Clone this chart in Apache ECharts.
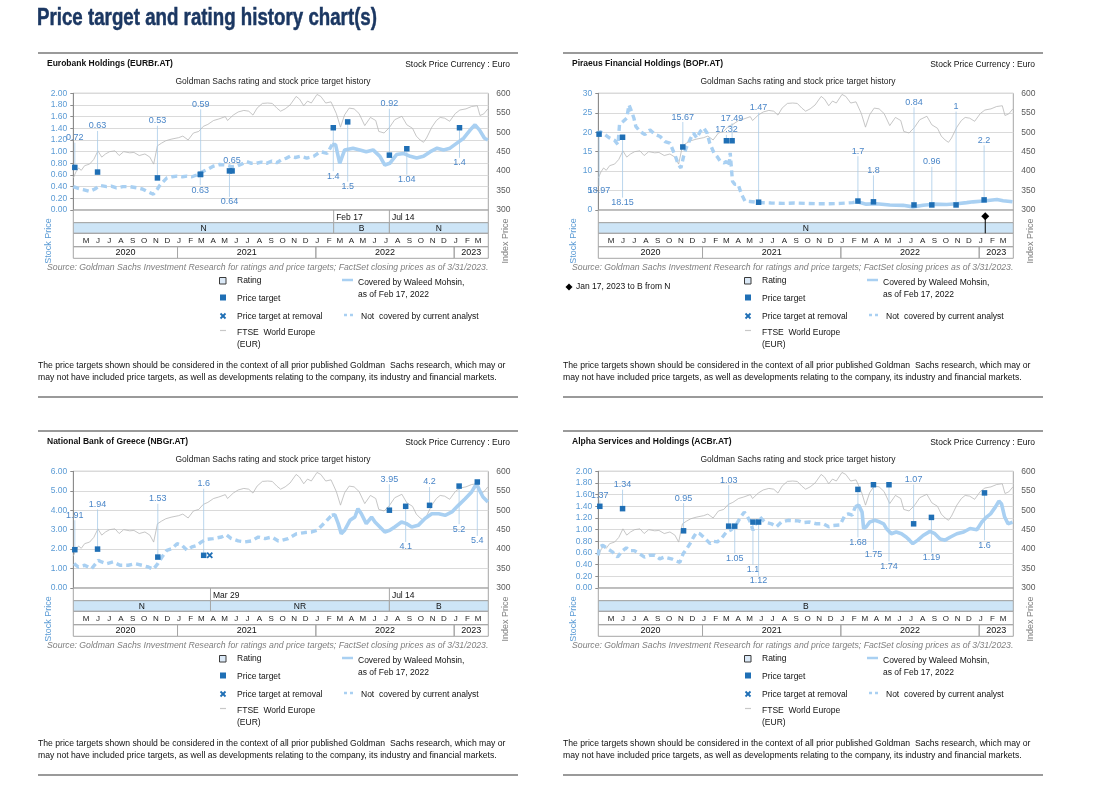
<!DOCTYPE html>
<html><head><meta charset="utf-8">
<script src="https://cdn.jsdelivr.net/npm/echarts/dist/echarts.min.js"></script>
<style>html,body{margin:0;padding:0;background:#fff}#c{width:1118px;height:795px}</style>
</head><body><div id="c"></div><script>
// ---------------- DATA ----------------
const ftseIndex = [
['2020-04-01',382],['2020-04-08',398],['2020-04-15',408],['2020-04-22',402],['2020-05-01',414],['2020-05-14',418],['2020-05-25',430],['2020-06-05',452],['2020-06-15',436],['2020-06-25',444],['2020-07-06',450],['2020-07-20',452],['2020-07-31',440],['2020-08-12',450],['2020-08-28',447],['2020-09-08',448],['2020-09-22',440],['2020-10-07',444],['2020-10-20',436],['2020-10-30',418],['2020-11-09',465],['2020-11-20',472],['2020-12-01',478],['2020-12-15',482],['2021-01-04',486],['2021-01-15',490],['2021-01-29',480],['2021-02-12',498],['2021-02-26',502],['2021-03-10',515],['2021-03-22',520],['2021-04-06',530],['2021-04-20',534],['2021-05-07',540],['2021-05-13',530],['2021-05-28',544],['2021-06-10',552],['2021-06-25',556],['2021-07-08',554],['2021-07-19',544],['2021-07-30',562],['2021-08-13',574],['2021-08-27',575],['2021-09-08',574],['2021-09-20',562],['2021-09-30',554],['2021-10-12',560],['2021-10-25',570],['2021-11-10',592],['2021-11-19',585],['2021-11-30',568],['2021-12-10',580],['2021-12-20',575],['2022-01-04',597],['2022-01-14',592],['2022-01-27',575],['2022-02-10',578],['2022-02-24',548],['2022-03-07',513],['2022-03-18',545],['2022-03-30',562],['2022-04-12',560],['2022-04-25',548],['2022-05-10',517],['2022-05-25',538],['2022-06-08',530],['2022-06-16',502],['2022-06-30',498],['2022-07-14',512],['2022-07-28',532],['2022-08-16',541],['2022-08-29',519],['2022-09-13',510],['2022-09-23',490],['2022-10-03',480],['2022-10-12',474],['2022-10-20',485],['2022-11-03',513],['2022-11-15',530],['2022-11-25',538],['2022-12-07',536],['2022-12-20',528],['2023-01-04',548],['2023-01-16',557],['2023-02-01',560],['2023-02-16',566],['2023-03-03',568],['2023-03-10',543],['2023-03-20',547],['2023-03-31',560]
];

const eurStock = [
['2020-04-01',0.40],['2020-04-14',0.37],['2020-04-27',0.35],['2020-05-14',0.32],['2020-05-28',0.36],['2020-06-10',0.42],['2020-06-28',0.40],['2020-07-10',0.41],['2020-07-24',0.38],['2020-08-10',0.40],['2020-08-29',0.40],['2020-09-16',0.38],['2020-09-30',0.36],['2020-10-12',0.32],['2020-10-29',0.27],['2020-11-09',0.36],['2020-11-16',0.43],['2020-12-04',0.55],['2020-12-18',0.57],['2020-12-31',0.58],['2021-01-14',0.57],['2021-01-26',0.58],['2021-02-08',0.57],['2021-02-21',0.60],['2021-03-09',0.66],['2021-03-22',0.70],['2021-04-05',0.75],['2021-04-22',0.78],['2021-05-10',0.77],['2021-05-24',0.74],['2021-06-06',0.75],['2021-06-20',0.79],['2021-07-02',0.83],['2021-07-15',0.80],['2021-07-28',0.80],['2021-08-10',0.82],['2021-08-24',0.80],['2021-09-07',0.84],['2021-09-20',0.81],['2021-10-02',0.86],['2021-10-16',0.89],['2021-10-25',0.92],['2021-11-08',0.90],['2021-11-21',0.92],['2021-12-08',0.89],['2021-12-26',0.92],['2022-01-13',1.00],['2022-01-31',0.97],['2022-02-13',1.12],['2022-02-22',1.12],['2022-03-05',0.80],['2022-03-18',1.03],['2022-04-09',1.06],['2022-04-27',1.03],['2022-05-14',1.00],['2022-06-01',1.03],['2022-06-19',0.92],['2022-07-02',0.77],['2022-07-15',0.80],['2022-08-02',0.95],['2022-08-20',0.97],['2022-09-07',0.92],['2022-09-24',0.89],['2022-10-12',0.92],['2022-10-30',1.00],['2022-11-17',1.06],['2022-12-04',1.03],['2022-12-21',1.06],['2023-01-09',1.15],['2023-01-26',1.23],['2023-02-12',1.37],['2023-02-25',1.46],['2023-03-09',1.37],['2023-03-22',1.23],['2023-03-31',1.20]
];
const eurTargets = [
['2020-04-05',0.73,'0.72'],['2020-06-04',0.65,'0.63'],['2020-11-09',0.55,'0.53'],['2021-03-03',0.61,'0.59'],['2021-03-02',0.61,'0.63'],['2021-05-25',0.67,'0.65'],['2021-05-18',0.67,'0.64'],['2022-02-16',1.41,'1.4'],['2022-03-26',1.51,'1.5'],['2022-07-14',0.94,'0.92'],['2022-08-29',1.05,'1.04'],['2023-01-15',1.41,'1.4']
];
const eurLabelAt = [1.24,1.44,1.53,1.81,0.34,0.85,0.14,0.58,0.40,1.82,0.52,0.81];
const eurRatings = [['2020-04-01','N'],['2022-02-17','B'],['2022-07-14','N']];

const pirStock = [
['2020-04-01',19.4],['2020-04-05',20.2],['2020-04-18',19.4],['2020-05-01',18.5],['2020-05-14',17.9],['2020-05-23',16.8],['2020-05-27',22.0],['2020-06-06',22.8],['2020-06-15',23.6],['2020-06-21',27.0],['2020-06-28',25.3],['2020-07-04',23.6],['2020-07-09',21.5],['2020-07-20',20.2],['2020-08-02',19.4],['2020-08-15',20.6],['2020-08-29',19.4],['2020-09-11',18.9],['2020-09-24',17.6],['2020-10-07',17.2],['2020-10-20',14.2],['2020-10-29',11.7],['2020-11-05',10.8],['2020-11-12',13.8],['2020-11-19',16.0],['2020-11-29',18.1],['2020-12-08',19.8],['2020-12-17',18.5],['2020-12-26',20.2],['2021-01-04',21.1],['2021-01-13',19.8],['2021-01-20',17.2],['2021-01-31',14.7],['2021-02-08',13.8],['2021-02-17',12.5],['2021-02-27',12.1],['2021-03-05',12.5],['2021-03-12',11.3],['2021-03-15',14.7],['2021-03-21',7.4],['2021-03-27',6.6],['2021-04-05',6.6],['2021-04-14',4.0],['2021-04-23',2.3],['2021-05-06',2.2],['2021-06-01',1.9],['2021-07-01',1.8],['2021-08-01',1.7],['2021-09-01',1.8],['2021-10-01',1.7],['2021-11-01',1.6],['2021-12-01',1.6],['2022-01-01',1.7],['2022-02-01',1.9],['2022-02-13',2.1],['2022-03-09',1.5],['2022-04-05',1.6],['2022-05-10',1.3],['2022-06-14',1.2],['2022-07-10',0.8],['2022-08-06',1.2],['2022-09-02',1.5],['2022-10-07',1.4],['2022-11-03',1.6],['2022-11-29',1.9],['2022-12-16',2.1],['2023-01-12',2.3],['2023-02-17',2.7],['2023-03-05',2.4],['2023-03-30',2.1]
];
const pirTargets = [
['2020-04-03',19.5,'18.97'],['2020-06-04',18.7,'18.15'],['2020-11-10',16.2,'15.67'],['2021-03-05',17.8,'17.32'],['2021-03-20',17.8,'17.49'],['2021-05-29',2.0,'1.47'],['2022-02-15',2.3,'1.7'],['2022-03-28',2.1,'1.8'],['2022-07-13',1.3,'0.84'],['2022-08-29',1.3,'0.96'],['2022-11-01',1.3,'1'],['2023-01-14',2.6,'2.2']
];
const pirLabelAt = [4.9,1.9,23.9,20.6,23.6,26.3,15.1,10.2,27.7,12.4,26.6,17.9];
const pirRatings = [['2020-04-01','N']];
const pirEvents = [['2023-01-17','B','N']];

const nbgStock = [
['2020-04-03',1.25],['2020-04-14',1.08],['2020-05-01',1.17],['2020-05-19',0.99],['2020-06-06',1.42],['2020-06-15',1.34],['2020-06-28',1.25],['2020-07-15',1.34],['2020-08-02',1.17],['2020-08-24',1.17],['2020-09-11',1.25],['2020-09-29',1.17],['2020-10-16',1.08],['2020-10-29',0.96],['2020-11-10',1.25],['2020-11-21',1.59],['2020-12-04',1.94],['2020-12-17',2.02],['2020-12-31',2.28],['2021-01-13',2.19],['2021-01-26',1.94],['2021-02-08',2.11],['2021-02-21',2.19],['2021-03-05',2.37],['2021-03-18',2.50],['2021-04-05',2.54],['2021-04-27',2.62],['2021-05-10',2.74],['2021-05-23',2.54],['2021-06-10',2.42],['2021-06-28',2.37],['2021-07-15',2.42],['2021-08-02',2.62],['2021-08-20',2.54],['2021-09-07',2.62],['2021-09-24',2.42],['2021-10-03',2.45],['2021-10-20',2.54],['2021-11-11',2.79],['2021-12-03',2.85],['2021-12-21',2.88],['2022-01-04',2.97],['2022-01-26',3.39],['2022-02-12',3.74],['2022-02-20',3.77],['2022-03-01',3.31],['2022-03-09',2.79],['2022-03-18',2.97],['2022-04-01',3.48],['2022-04-14',3.65],['2022-04-22',4.08],['2022-05-01',3.82],['2022-05-14',3.31],['2022-05-28',3.65],['2022-06-06',3.39],['2022-06-19',3.14],['2022-07-02',2.88],['2022-07-15',2.97],['2022-07-28',3.14],['2022-08-15',3.39],['2022-08-28',3.31],['2022-09-11',3.14],['2022-09-28',3.22],['2022-10-16',3.57],['2022-11-03',3.82],['2022-11-21',3.82],['2022-12-08',3.74],['2022-12-26',3.91],['2023-01-12',4.25],['2023-01-30',4.59],['2023-02-16',4.94],['2023-03-01',5.36],['2023-03-09',5.02],['2023-03-18',4.68],['2023-03-31',4.42]
];
const nbgTargets = [
['2020-04-05',1.97,'1.91'],['2020-06-04',2.0,'1.94'],['2020-11-10',1.59,'1.53'],['2021-03-11',1.68,'1.6'],['2022-07-14',4.0,'3.95'],['2022-08-26',4.2,'4.1'],['2022-10-28',4.25,'4.2'],['2023-01-14',5.24,'5.2'],['2023-03-03',5.45,'5.4']
];
const nbgLabelAt = [3.74,4.30,4.59,5.36,5.59,2.11,5.45,3.02,2.42];
const nbgRemovals = [['2021-03-27',1.68]];
const nbgRatings = [['2020-04-01','N'],['2021-03-29','NR'],['2022-07-14','B']];

const acbStock = [
['2020-04-01',0.56],['2020-04-03',0.70],['2020-04-13',0.73],['2020-04-26',0.67],['2020-05-08',0.62],['2020-05-22',0.53],['2020-06-01',0.62],['2020-06-14',0.69],['2020-06-22',0.64],['2020-07-05',0.64],['2020-07-18',0.59],['2020-08-01',0.53],['2020-08-14',0.56],['2020-08-28',0.56],['2020-09-10',0.50],['2020-09-23',0.53],['2020-10-11',0.50],['2020-10-24',0.46],['2020-11-02',0.44],['2020-11-11',0.59],['2020-11-20',0.67],['2020-11-29',0.76],['2020-12-08',0.87],['2020-12-16',0.95],['2020-12-25',0.93],['2021-01-04',0.87],['2021-01-12',0.82],['2021-01-21',0.76],['2021-01-30',0.80],['2021-02-09',0.79],['2021-02-21',0.86],['2021-03-05',0.96],['2021-03-18',1.00],['2021-04-01',1.10],['2021-04-12',1.22],['2021-04-21',1.30],['2021-04-27',1.25],['2021-05-05',1.16],['2021-05-14',0.99],['2021-05-23',1.13],['2021-06-01',1.22],['2021-06-14',1.13],['2021-07-02',1.10],['2021-07-15',1.05],['2021-07-28',1.13],['2021-08-15',1.16],['2021-09-11',1.15],['2021-09-24',1.12],['2021-10-11',1.13],['2021-10-29',1.10],['2021-11-16',1.10],['2021-11-30',1.05],['2021-12-12',1.07],['2021-12-30',1.08],['2022-01-12',1.25],['2022-01-21',1.27],['2022-01-31',1.25],['2022-02-08',1.39],['2022-02-17',1.42],['2022-02-26',1.30],['2022-03-02',1.02],['2022-03-09',1.05],['2022-03-18',1.13],['2022-04-01',1.16],['2022-04-14',1.13],['2022-04-24',1.10],['2022-05-01',1.02],['2022-05-14',0.93],['2022-05-27',0.96],['2022-06-10',0.93],['2022-06-23',0.87],['2022-07-01',0.82],['2022-07-10',0.76],['2022-07-23',0.82],['2022-08-06',0.90],['2022-08-24',0.97],['2022-09-06',0.93],['2022-09-20',0.84],['2022-10-03',0.82],['2022-10-16',0.87],['2022-11-03',0.93],['2022-11-21',0.96],['2022-12-08',1.02],['2022-12-26',1.00],['2023-01-08',1.13],['2023-01-21',1.22],['2023-01-31',1.27],['2023-02-13',1.39],['2023-02-22',1.49],['2023-03-01',1.44],['2023-03-09',1.22],['2023-03-18',1.10],['2023-03-30',1.13]
];
const acbTargets = [
['2020-04-05',1.40,'1.37'],['2020-06-04',1.36,'1.34'],['2020-11-12',0.98,'0.95'],['2021-03-11',1.06,'1.03'],['2021-03-27',1.06,'1.05'],['2021-05-14',1.13,'1.1'],['2021-05-29',1.13,'1.12'],['2022-02-15',1.69,'1.68'],['2022-03-28',1.77,'1.75'],['2022-05-08',1.77,'1.74'],['2022-07-12',1.10,'1.07'],['2022-08-28',1.21,'1.19'],['2023-01-15',1.63,'1.6']
];
const acbLabelAt = [1.59,1.77,1.54,1.85,0.51,0.31,0.12,0.78,0.57,0.37,1.86,0.52,0.73];
const acbRatings = [['2020-04-01','B']];

const monthLetters = ['J','F','M','A','M','J','J','A','S','O','N','D'];
const monthAbbr = ['Jan','Feb','Mar','Apr','May','Jun','Jul','Aug','Sep','Oct','Nov','Dec'];
const yearSpans = [['2020','2020-04-01','2021-01-01'],['2021','2021-01-01','2022-01-01'],['2022','2022-01-01','2023-01-01'],['2023','2023-01-01','2023-04-01']];
const START = '2020-04-01', END = '2023-04-01', COVER = '2022-02-17';

// ---------------- LAYOUT ----------------
const FONT = '"Liberation Sans", Arial, Helvetica, sans-serif';
const PLOT = {left:73.3, top:93.3, width:415, height:116.7};
const TABLE_TOP = 210, TABLE_H = 48.3;
const ROWS = [0, 12.7, 23.3, 36.7, 48.3];
const C = {stock:'#a9d0f2', index:'#b8b8b8', target:'#1f6fb5', tlabel:'#4a86c8', leader:'#a9cbe9',
           grid:'#dadada', frame:'#a6a6a6', band:'#cde5f7', leftAx:'#5b9bd5', rightAx:'#595959'};

const panels = [
 {title:'Eurobank Holdings (EURBr.AT)', dx:0, dy:0, stock:eurStock, targets:eurTargets, labelAt:eurLabelAt, removals:[], ratings:eurRatings, events:[], ax:{min:0,max:2,step:0.2,dec:2}},
 {title:'Piraeus Financial Holdings (BOPr.AT)', dx:525, dy:0, stock:pirStock, targets:pirTargets, labelAt:pirLabelAt, removals:[], ratings:pirRatings, events:pirEvents, ax:{min:0,max:30,step:5,dec:0}},
 {title:'National Bank of Greece (NBGr.AT)', dx:0, dy:378, stock:nbgStock, targets:nbgTargets, labelAt:nbgLabelAt, removals:nbgRemovals, ratings:nbgRatings, events:[], ax:{min:0,max:6,step:1,dec:2}},
 {title:'Alpha Services and Holdings (ACBr.AT)', dx:525, dy:378, stock:acbStock, targets:acbTargets, labelAt:acbLabelAt, removals:[], ratings:acbRatings, events:[], ax:{min:0,max:2,step:0.2,dec:2}}
];

function ts(s){const a=s.split('-').map(Number);return new Date(a[0],a[1]-1,a[2]).getTime();}
function fmtDate(s){const a=s.split('-').map(Number);return monthAbbr[a[1]-1]+' '+a[2];}
function txtEl(x,y,text,align,size,fill,extra,fontStyle){
  return Object.assign({type:'text',x:x,y:y,silent:true,style:{text:text,fill:fill||'#000',font:(fontStyle?fontStyle+' ':'')+(size||8.5)+'px '+FONT,
    align:align||'left',verticalAlign:'middle',textAlign:align||'left',textVerticalAlign:'middle'}},extra||{});
}

function tableRenderer(p){
  return function(params, api){
    const X = d => api.coord([typeof d==='string'?ts(d):d, 0])[0];
    const Y = v => api.coord([ts(START), v])[1];
    const x0 = X(START), x1 = X(END);
    const ch = [];
    const box = (xa,ya,xb,yb,fill) => ({type:'rect',shape:{x:xa,y:ya,width:xb-xa,height:yb-ya},style:{fill:fill||'none',stroke:C.frame,lineWidth:1}});
    ch.push(box(x0,Y(ROWS[0]),x1,Y(ROWS[1])));
    p.ratings.forEach((r,k)=>{
      const xa = X(r[0]);
      const xb = k+1<p.ratings.length ? X(p.ratings[k+1][0]) : x1;
      ch.push(box(xa,Y(ROWS[1]),xb,Y(ROWS[2]),C.band));
      ch.push(txtEl((xa+xb)/2,(Y(ROWS[1])+Y(ROWS[2]))/2+0.8,r[1],'center',8.5,'#111'));
      if(k>0){
        ch.push({type:'line',shape:{x1:xa,y1:Y(ROWS[0]),x2:xa,y2:Y(ROWS[1])},style:{stroke:C.frame,lineWidth:1}});
        ch.push(txtEl(xa+2.5,(Y(ROWS[0])+Y(ROWS[1]))/2+1,fmtDate(r[0]),'left',8.5,'#111'));
      }
    });
    ch.push(box(x0,Y(ROWS[2]),x1,Y(ROWS[3])));
    const s0 = new Date(ts(START));
    for(let m=1;m<36;m++){
      const d = new Date(s0.getFullYear(), s0.getMonth()+m, 1);
      ch.push(txtEl(X(d.getTime())+1.5,(Y(ROWS[2])+Y(ROWS[3]))/2+0.5,monthLetters[d.getMonth()],'center',8,'#222'));
    }
    yearSpans.forEach(y=>{
      const xa=X(y[1]), xb=X(y[2]);
      ch.push(box(xa,Y(ROWS[3]),xb,Y(ROWS[4])));
      ch.push(txtEl((xa+xb)/2,(Y(ROWS[3])+Y(ROWS[4]))/2+0.5,y[0],'center',9,'#111'));
    });
    p.events.forEach(e=>{
      const xe = X(e[0]); const yc = (Y(ROWS[0])+Y(ROWS[1]))/2;
      ch.push({type:'line',shape:{x1:xe,y1:yc,x2:xe,y2:Y(ROWS[2])},style:{stroke:'#000',lineWidth:1}});
      ch.push({type:'polygon',shape:{points:[[xe,yc-4],[xe+4,yc],[xe,yc+4],[xe-4,yc]]},style:{fill:'#000'}});
    });
    return {type:'group',children:ch};
  };
}

function targetRenderer(p){
  return function(params, api){
    const t = p.targets[params.dataIndex];
    const la = p.labelAt[params.dataIndex];
    const pt = api.coord([ts(t[0]), t[1]]);
    const lp = api.coord([ts(t[0]), la]);
    const up = lp[1] < pt[1];
    const yEnd = up ? lp[1]+5 : lp[1]-5;
    return {type:'group',children:[
      {type:'line',shape:{x1:pt[0],y1:pt[1],x2:pt[0],y2:yEnd},style:{stroke:C.leader,lineWidth:0.8}},
      {type:'rect',shape:{x:pt[0]-2.75,y:pt[1]-2.75,width:5.5,height:5.5},style:{fill:C.target}},
      txtEl(pt[0],lp[1],t[2],'center',9,C.tlabel)
    ]};
  };
}
function removalRenderer(p){
  return function(params, api){
    const r = p.removals[params.dataIndex];
    const c = api.coord([ts(r[0]), r[1]]);
    const s = 2.6;
    return {type:'group',children:[
      {type:'line',shape:{x1:c[0]-s,y1:c[1]-s,x2:c[0]+s,y2:c[1]+s},style:{stroke:C.target,lineWidth:1.8}},
      {type:'line',shape:{x1:c[0]-s,y1:c[1]+s,x2:c[0]+s,y2:c[1]-s},style:{stroke:C.target,lineWidth:1.8}}
    ]};
  };
}

const grids=[], xAxes=[], yAxes=[], series=[], graphics=[];
// title (fit to the reference width with a horizontal scale)
const TITLE = 'Price target and rating history chart(s)';
const TITLE_FONT = 'bold 22px "Liberation Sans", Arial, sans-serif';
const mctx = document.createElement('canvas').getContext('2d');
mctx.font = TITLE_FONT;
const titleScale = 340 / mctx.measureText(TITLE).width;
graphics.push({type:'text', x:37, y:19, scaleX:titleScale, scaleY:1.05, silent:true,
  style:{text:TITLE, fill:'#1b3762', stroke:'#1b3762', lineWidth:0.45, font:TITLE_FONT, align:'left', verticalAlign:'middle', textAlign:'left', textVerticalAlign:'middle'}});

panels.forEach((p,i)=>{
  const dx=p.dx, dy=p.dy;
  grids.push({left:PLOT.left+dx, top:PLOT.top+dy, width:PLOT.width, height:PLOT.height, show:true, borderColor:C.frame, borderWidth:1, backgroundColor:'transparent'});
  grids.push({left:PLOT.left+dx, top:TABLE_TOP+dy, width:PLOT.width, height:TABLE_H});
  xAxes.push({type:'time', gridIndex:2*i, min:ts(START), max:ts(END), show:false});
  xAxes.push({type:'time', gridIndex:2*i+1, min:ts(START), max:ts(END), show:false});
  yAxes.push({type:'value', gridIndex:2*i, position:'left', min:p.ax.min, max:p.ax.max, interval:p.ax.step,
    axisLine:{show:true,lineStyle:{color:'#8c8c8c',width:1}}, axisTick:{show:true,length:3,lineStyle:{color:'#8c8c8c'}},
    splitLine:{show:true,lineStyle:{color:C.grid,width:1}},
    axisLabel:{color:C.leftAx,fontSize:8.5,margin:6,fontFamily:FONT,formatter:v=>v.toFixed(p.ax.dec)}});
  yAxes.push({type:'value', gridIndex:2*i, position:'right', min:300, max:600, interval:50,
    axisLine:{show:false}, axisTick:{show:false}, splitLine:{show:false},
    axisLabel:{color:C.rightAx,fontSize:8.5,margin:8,fontFamily:FONT}});
  yAxes.push({type:'value', gridIndex:2*i+1, min:0, max:TABLE_H, inverse:true, show:false});

  const before = p.stock.filter(d=>ts(d[0])<ts(COVER));
  const after = p.stock.filter(d=>ts(d[0])>=ts(COVER));
  const solid = before.length ? [before[before.length-1]].concat(after) : after;

  series.push({type:'line', xAxisIndex:2*i, yAxisIndex:3*i+1, data:ftseIndex, symbol:'none', silent:true, z:2,
    lineStyle:{color:C.index,width:0.8}});
  series.push({type:'line', xAxisIndex:2*i, yAxisIndex:3*i, data:before, symbol:'none', silent:true, z:3,
    lineStyle:{color:C.stock,width:3.4,type:[6,4],cap:'butt'}});
  series.push({type:'line', xAxisIndex:2*i, yAxisIndex:3*i, data:solid, symbol:'none', silent:true, z:3,
    lineStyle:{color:C.stock,width:3.6}});
  series.push({type:'custom', xAxisIndex:2*i, yAxisIndex:3*i, data:p.targets.map(t=>[ts(t[0]),t[1]]),
    renderItem:targetRenderer(p), silent:true, z:6, clip:false});
  if(p.removals.length){
    series.push({type:'custom', xAxisIndex:2*i, yAxisIndex:3*i, data:p.removals.map(r=>[ts(r[0]),r[1]]),
      renderItem:removalRenderer(p), silent:true, z:6, clip:false});
  }
  series.push({type:'custom', xAxisIndex:2*i+1, yAxisIndex:3*i+2, data:[[ts(START),0]],
    renderItem:tableRenderer(p), silent:true, z:4, clip:false});

  // ---- static texts / frames
  const line = (x1,y1,x2,y2,color,w)=>({type:'line',silent:true,shape:{x1,y1,x2,y2},style:{stroke:color,lineWidth:w}});
  graphics.push(line(38+dx,53+dy,518+dx,53+dy,'#9a9a9a',2));
  graphics.push(line(38+dx,397+dy,518+dx,397+dy,'#9a9a9a',2));
  graphics.push(txtEl(47+dx,64+dy,p.title,'left',8.5,'#111',null,'bold'));
  graphics.push(txtEl(510+dx,65+dy,'Stock Price Currency : Euro','right',8.5,'#111'));
  graphics.push(txtEl(273+dx,82+dy,'Goldman Sachs rating and stock price target history','center',8.5,'#222'));
  graphics.push(txtEl(49+dx,241+dy,'Stock Price','center',9,C.leftAx,{rotation:Math.PI/2}));
  graphics.push(txtEl(506+dx,241+dy,'Index Price','center',9,'#7f7f7f',{rotation:Math.PI/2}));
  graphics.push(txtEl(47+dx,268+dy,'Source: Goldman Sachs Investment Research for ratings and price targets; FactSet closing prices as of 3/31/2023.','left',8.7,'#7f7f7f',null,'italic'));
  // legend
  graphics.push({type:'rect',silent:true,shape:{x:219.5+dx,y:277.5+dy,width:6.5,height:6.5},style:{fill:'#dbe9f7',stroke:'#3a3a3a',lineWidth:1}});
  graphics.push(txtEl(237+dx,281+dy,'Rating','left',8.5,'#111'));
  graphics.push({type:'rect',silent:true,shape:{x:220+dx,y:294.5+dy,width:6,height:6},style:{fill:C.target}});
  graphics.push(txtEl(237+dx,299+dy,'Price target','left',8.5,'#111'));
  graphics.push(line(220.5+dx,313.5+dy,225.5+dx,318.5+dy,C.target,1.8));
  graphics.push(line(220.5+dx,318.5+dy,225.5+dx,313.5+dy,C.target,1.8));
  graphics.push(txtEl(237+dx,317+dy,'Price target at removal','left',8.5,'#111'));
  graphics.push(line(220+dx,330.5+dy,226+dx,330.5+dy,'#c8c8c8',1.2));
  graphics.push(txtEl(237+dx,333+dy,'FTSE  World Europe','left',8.5,'#111'));
  graphics.push(txtEl(237+dx,345+dy,'(EUR)','left',8.5,'#111'));
  graphics.push(line(342+dx,280+dy,353+dx,280+dy,C.stock,2.5));
  graphics.push(txtEl(358+dx,283+dy,'Covered by Waleed Mohsin,','left',8.5,'#111'));
  graphics.push(txtEl(358+dx,295+dy,'as of Feb 17, 2022','left',8.5,'#111'));
  graphics.push(line(344+dx,315+dy,347+dx,315+dy,C.stock,2.5));
  graphics.push(line(350+dx,315+dy,353+dx,315+dy,C.stock,2.5));
  graphics.push(txtEl(361+dx,317+dy,'Not  covered by current analyst','left',8.5,'#111'));
  p.events.forEach(e=>{
    graphics.push({type:'polygon',silent:true,shape:{points:[[44+dx,283.5+dy],[47.5+dx,287+dy],[44+dx,290.5+dy],[40.5+dx,287+dy]]},style:{fill:'#000'}});
    graphics.push(txtEl(51+dx,287+dy,fmtDate(e[0])+', '+e[0].slice(0,4)+' to '+e[1]+' from '+e[2],'left',8.5,'#111'));
  });
  graphics.push(txtEl(38+dx,366+dy,'The price targets shown should be considered in the context of all prior published Goldman  Sachs research, which may or','left',8.65,'#111'));
  graphics.push(txtEl(38+dx,378+dy,'may not have included price targets, as well as developments relating to the company, its industry and financial markets.','left',8.65,'#111'));
});

const chart = echarts.init(document.getElementById('c'), null, {renderer:'canvas'});
chart.setOption({
  animation:false, backgroundColor:'#fff',
  textStyle:{fontFamily:FONT},
  grid:grids, xAxis:xAxes, yAxis:yAxes, series:series, graphic:graphics
});
</script></body></html>
